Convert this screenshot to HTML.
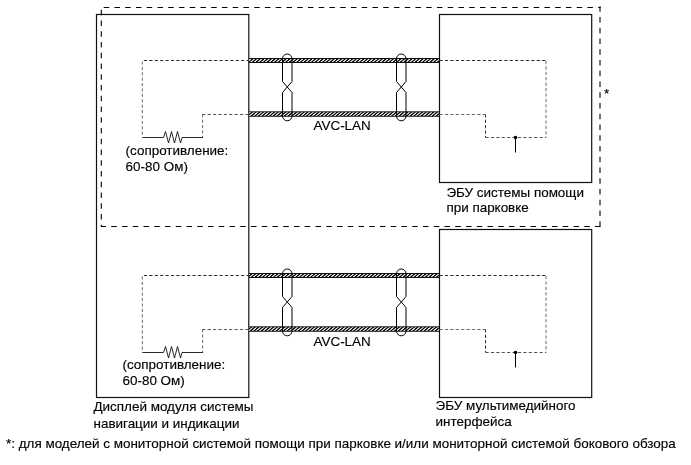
<!DOCTYPE html>
<html><head><meta charset="utf-8"><style>
html,body{margin:0;padding:0;background:#fff;width:691px;height:465px;overflow:hidden}
svg{display:block;filter:grayscale(1)}
text{font-family:"Liberation Sans",sans-serif;font-size:13.45px;fill:#000;stroke:#000;stroke-width:0.15px}
</style></head><body>
<svg width="691" height="465" viewBox="0 0 691 465">
<defs><pattern id="hatch" patternUnits="userSpaceOnUse" width="3.7" height="5" patternTransform="skewX(-50)"><rect width="3.7" height="5" fill="#fff"/><rect width="2.0" height="5" fill="#000"/></pattern></defs>
<rect x="96.5" y="14.5" width="152.3" height="383" fill="none" stroke="#111" stroke-width="1.2"/>
<rect x="439.5" y="14.5" width="152.2" height="168" fill="none" stroke="#111" stroke-width="1.2"/>
<rect x="439.5" y="229.5" width="152.2" height="168" fill="none" stroke="#111" stroke-width="1.2"/>
<path d="M103.7,7.5 H600.5" fill="none" stroke="#000" stroke-width="1.1" stroke-dasharray="5.5 5.25"/>
<path d="M600,6.3 V226.5" fill="none" stroke="#000" stroke-width="1.1" stroke-dasharray="5.5 5.25"/>
<path d="M600.5,226.5 H101" fill="none" stroke="#000" stroke-width="1.1" stroke-dasharray="5.5 5.25"/>
<path d="M101.3,9.75 V227" fill="none" stroke="#000" stroke-width="1.1" stroke-dasharray="5.5 5.25"/>
<rect x="249" y="58.5" width="190" height="4.0" fill="url(#hatch)"/>
<line x1="249" y1="58.5" x2="439" y2="58.5" stroke="#111" stroke-width="1"/>
<line x1="249" y1="62.5" x2="439" y2="62.5" stroke="#111" stroke-width="1"/>
<rect x="249" y="111.8" width="190" height="4.5" fill="url(#hatch)"/>
<line x1="249" y1="111.8" x2="439" y2="111.8" stroke="#222" stroke-width="1"/>
<line x1="249" y1="116.3" x2="439" y2="116.3" stroke="#222" stroke-width="1"/>
<path d="M282.5,58.75 A4.75,4.75 0 0 1 292.0,58.75 L292.0,81.5 L287.25,87 L282.5,92.5 L282.5,116.05 A4.75,4.75 0 0 0 292.0,116.05 L292.0,92.5 L287.25,87 L282.5,81.5 Z" fill="none" stroke="#000" stroke-width="1"/>
<path d="M396.5,58.75 A4.75,4.75 0 0 1 406.0,58.75 L406.0,81.5 L401.25,87 L396.5,92.5 L396.5,116.05 A4.75,4.75 0 0 0 406.0,116.05 L406.0,92.5 L401.25,87 L396.5,81.5 Z" fill="none" stroke="#000" stroke-width="1"/>
<path d="M143.9,60.5 H249" stroke="#2a2a2a" fill="none" stroke-width="1" stroke-dasharray="3.2 2.2"/>
<path d="M142.3,61.4 V137.5" stroke="#6a6a6a" fill="none" stroke-width="1" stroke-dasharray="3.2 2.2"/>
<path d="M202.6,114.1 V137.5" stroke="#6a6a6a" fill="none" stroke-width="1" stroke-dasharray="3.2 2.2"/>
<path d="M202.2,114.5 H249" stroke="#555" fill="none" stroke-width="1" stroke-dasharray="3.2 2.2"/>
<path d="M142.5,137.5 H163.5 L165.5,131.5 L168.5,143 L171.5,131.5 L174.5,143 L177.5,131.5 L180.5,143 L182,137.5 H203" fill="none" stroke="#111" stroke-width="0.9"/>
<path d="M439.5,60.5 H546" stroke="#2a2a2a" fill="none" stroke-width="1" stroke-dasharray="3.2 2.2"/>
<path d="M546,61 V137.5" stroke="#6a6a6a" fill="none" stroke-width="1" stroke-dasharray="3.2 2.2"/>
<path d="M485.5,137.5 H546" stroke="#555" fill="none" stroke-width="1" stroke-dasharray="3.2 2.2"/>
<path d="M485.5,114.3 V137.5" stroke="#2a2a2a" fill="none" stroke-width="1" stroke-dasharray="3.2 2.2"/>
<path d="M439.5,114.5 H485.5" stroke="#6a6a6a" fill="none" stroke-width="1" stroke-dasharray="3.2 2.2"/>
<circle cx="515.5" cy="137.5" r="1.8" fill="#000"/>
<line x1="515.5" y1="137.5" x2="515.5" y2="152.5" stroke="#000" stroke-width="1"/>
<text x="313.5" y="130.0">AVC-LAN</text>
<text x="125.6" y="155.35">(сопротивление:</text>
<text x="125.6" y="171.1">60-80 Ом)</text>
<rect x="249" y="273.5" width="190" height="4.0" fill="url(#hatch)"/>
<line x1="249" y1="273.5" x2="439" y2="273.5" stroke="#111" stroke-width="1"/>
<line x1="249" y1="277.5" x2="439" y2="277.5" stroke="#111" stroke-width="1"/>
<rect x="249" y="326.8" width="190" height="4.5" fill="url(#hatch)"/>
<line x1="249" y1="326.8" x2="439" y2="326.8" stroke="#222" stroke-width="1"/>
<line x1="249" y1="331.3" x2="439" y2="331.3" stroke="#222" stroke-width="1"/>
<path d="M282.5,273.75 A4.75,4.75 0 0 1 292.0,273.75 L292.0,296.5 L287.25,302 L282.5,307.5 L282.5,331.05 A4.75,4.75 0 0 0 292.0,331.05 L292.0,307.5 L287.25,302 L282.5,296.5 Z" fill="none" stroke="#000" stroke-width="1"/>
<path d="M396.5,273.75 A4.75,4.75 0 0 1 406.0,273.75 L406.0,296.5 L401.25,302 L396.5,307.5 L396.5,331.05 A4.75,4.75 0 0 0 406.0,331.05 L406.0,307.5 L401.25,302 L396.5,296.5 Z" fill="none" stroke="#000" stroke-width="1"/>
<path d="M143.9,275.5 H249" stroke="#2a2a2a" fill="none" stroke-width="1" stroke-dasharray="3.2 2.2"/>
<path d="M142.3,276.4 V352.5" stroke="#6a6a6a" fill="none" stroke-width="1" stroke-dasharray="3.2 2.2"/>
<path d="M202.6,329.1 V352.5" stroke="#6a6a6a" fill="none" stroke-width="1" stroke-dasharray="3.2 2.2"/>
<path d="M202.2,329.5 H249" stroke="#555" fill="none" stroke-width="1" stroke-dasharray="3.2 2.2"/>
<path d="M142.5,352.5 H163.5 L165.5,346.5 L168.5,358 L171.5,346.5 L174.5,358 L177.5,346.5 L180.5,358 L182,352.5 H203" fill="none" stroke="#111" stroke-width="0.9"/>
<path d="M439.5,275.5 H546" stroke="#2a2a2a" fill="none" stroke-width="1" stroke-dasharray="3.2 2.2"/>
<path d="M546,276 V352.5" stroke="#6a6a6a" fill="none" stroke-width="1" stroke-dasharray="3.2 2.2"/>
<path d="M485.5,352.5 H546" stroke="#555" fill="none" stroke-width="1" stroke-dasharray="3.2 2.2"/>
<path d="M485.5,329.3 V352.5" stroke="#2a2a2a" fill="none" stroke-width="1" stroke-dasharray="3.2 2.2"/>
<path d="M439.5,329.5 H485.5" stroke="#6a6a6a" fill="none" stroke-width="1" stroke-dasharray="3.2 2.2"/>
<circle cx="515.5" cy="352.5" r="1.8" fill="#000"/>
<line x1="515.5" y1="352.5" x2="515.5" y2="367.5" stroke="#000" stroke-width="1"/>
<text x="313.5" y="345.7955">AVC-LAN</text>
<text x="122.5" y="368.5">(сопротивление:</text>
<text x="122.5" y="384.5">60-80 Ом)</text>
<text x="446.4" y="196.5">ЭБУ системы помощи</text>
<text x="446.4" y="212.4">при парковке</text>
<text x="435.6" y="410.2">ЭБУ мультимедийного</text>
<text x="435.6" y="426.0">интерфейса</text>
<text x="93.5" y="411">Дисплей модуля системы</text>
<text x="93.5" y="427.5">навигации и индикации</text>
<text x="604" y="97.6">*</text>
<text x="6" y="448.2">*: для моделей с мониторной системой помощи при парковке и/или мониторной системой бокового обзора</text>
</svg>
</body></html>
